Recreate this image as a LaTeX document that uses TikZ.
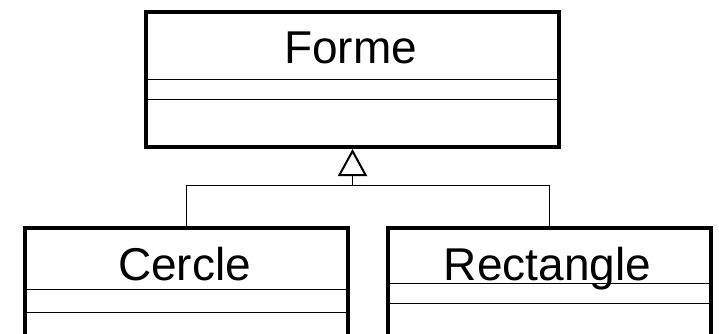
\documentclass[tikz,border=0pt]{standalone}
\usepackage{fontspec}
\setmainfont{Liberation Sans}
\usetikzlibrary{arrows.meta}

\begin{document}
\begin{tikzpicture}[x=1pt,y=-1pt]

      \clip (0,0) rectangle (719,333);

      \begin{scope}[every node/.style={rectangle,draw,line width=4pt,
          anchor=north west,inner sep=0pt}]
        \node[minimum width=413,minimum height=135] (forme) at (144,10) {};
        \node[minimum width=323,minimum height=135] (cercle) at (23,226) {};
        \node[minimum width=323,minimum height=135] (rect) at (386,226) {};
      \end{scope}

      \begin{scope}[every node/.style={anchor=base,inner sep=0pt,
          font=\fontsize{46}{50}\selectfont}]
        \node (formeName) at (350.5,63) {Forme};
        \node (cercleName) at (184.5,280) {Cercle};
        \node (rectName) at (547.5,280) {Rectangle};
      \end{scope}

      % compartments
      \begin{scope}[line width=1pt]
        \draw (forme.north west) ++(0,69) -- ++(413,0);
        \draw (forme.north west) ++(0,89) -- ++(413,0);
        \draw (cercle.north west) ++(0,63) -- ++(326,0);
        \draw (cercle.north west) ++(0,86) -- ++(326,0);
        \draw (rect.north west) ++(0,57) -- ++(326,0);
        \draw (rect.north west) ++(0,77) -- ++(326,0);
      \end{scope}

      % inheritance
      \coordinate (bar) at (0,185);
      \begin{scope}[line width=1pt]
        \draw (cercle.north) -- (cercle.north |- bar) -| (rect.north);
        \draw[-{Triangle[open,length=27pt,width=29pt,line width=2pt]}]
          (forme.south |- bar) -- (forme.south);
      \end{scope}
    \end{tikzpicture}
\end{document}
